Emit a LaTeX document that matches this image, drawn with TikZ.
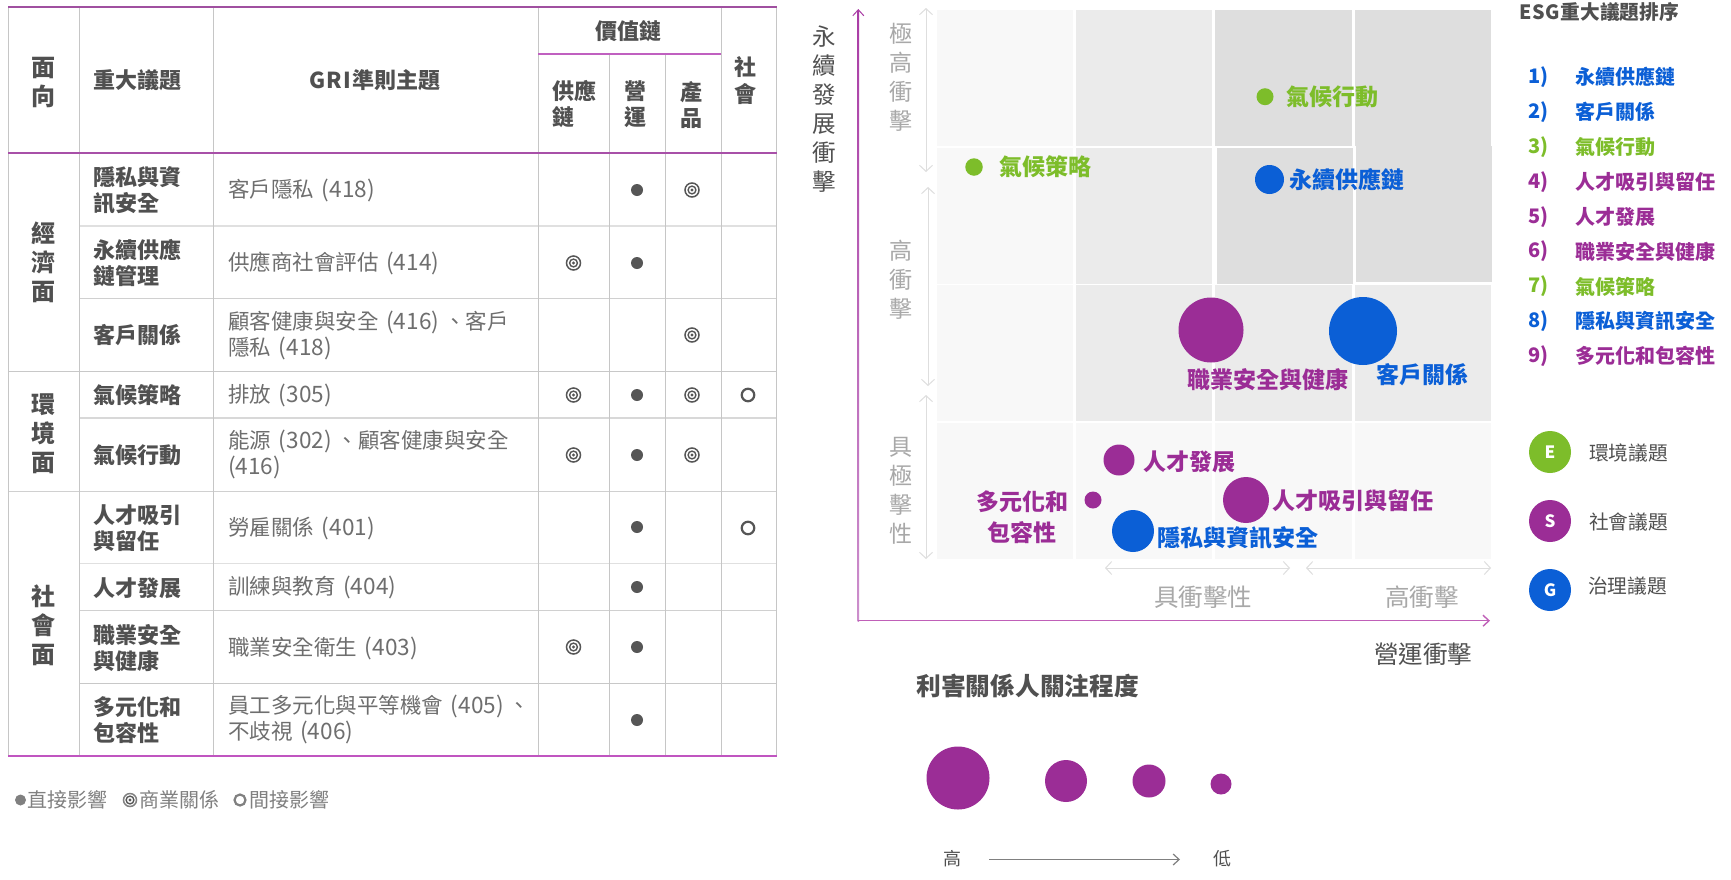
\documentclass[tikz,border=0pt]{standalone}
\usepackage{fontspec}
\setmainfont{Noto Sans CJK TC}
\usetikzlibrary{arrows.meta}
\definecolor{cgreen}{HTML}{7DBD2A}
\definecolor{cpurple}{HTML}{9B2D96}
\definecolor{cblue}{HTML}{0B5FD6}
\definecolor{cdark}{HTML}{505050}
\definecolor{cbody}{HTML}{6E6E6E}
\definecolor{cmark}{HTML}{565656}
\definecolor{cvline}{HTML}{C6C6C6}
\definecolor{cl1}{HTML}{F8F8F8}
\definecolor{cl2}{HTML}{EBEBEB}
\definecolor{cl3}{HTML}{DEDEDE}
\definecolor{cgrayt}{HTML}{A8A8A8}
\definecolor{c888}{HTML}{808080}
\definecolor{pA}{HTML}{A050A0}
\definecolor{pB}{HTML}{C060C0}
\definecolor{pC}{HTML}{A850A8}
\definecolor{pD}{HTML}{C055C0}
\definecolor{pE}{HTML}{A93CA5}
\definecolor{pF}{HTML}{CC8FCC}
\definecolor{pG}{HTML}{C060B8}
\newcommand{\fs}[2]{\fontsize{#1}{#2}\selectfont}
\newcommand{\dg}[1]{\kern3pt{\fontsize{22.6}{26}\selectfont #1}}
\tikzset{
  x=1pt,y=-1pt,
  txt/.style={inner sep=0pt,outer sep=0pt},
  hd/.style={txt,text=cdark,font=\fs{22}{26}\bfseries,align=left,anchor=west},
  hdc/.style={txt,text=cdark,font=\fs{24}{29}\bfseries,align=center},
  body/.style={txt,text=cbody,font=\fs{21.5}{26},align=left,anchor=west},
  vline/.style={draw=cvline,line width=1pt},
  hline/.style={draw=#1,line width=1.3pt},
  purp/.style={draw=#1,line width=1.5pt},
  dotm/.style={circle,fill=cmark,inner sep=0pt,minimum size=12pt},
  hollowm/.style={circle,draw=cmark,line width=2.2pt,fill=white,inner sep=0pt,minimum size=12.5pt},
  targetm/.style={circle,draw=cmark,line width=1.5pt,fill=white,inner sep=0pt,minimum size=14pt,
     path picture={\draw[cmark,line width=1.4pt] (path picture bounding box.center) circle (3.9pt);
                   \fill[cmark] (path picture bounding box.center) circle (1.7pt);}},
  cell/.style={fill=#1,draw=none},
  blab/.style={txt,font=\fs{23}{31}\bfseries,text=#1,anchor=west,align=center},
  bub/.style={circle,fill=#1,inner sep=0pt,outer sep=0pt},
  vgr/.style={txt,text=cgrayt,font=\fs{23}{29},align=center},
  garrow/.style={draw=cl3,line width=1pt,{Straight Barb[length=6pt,width=13pt]}-{Straight Barb[length=6pt,width=13pt]}},
  rlab/.style={txt,font=\fs{20}{24}\bfseries,text=#1,anchor=west},
  rleg/.style={txt,font=\fs{19.7}{24},text=cdark,anchor=west},
  leg/.style={txt,font=\fs{20}{24},text=c888,anchor=west}
}
\begin{document}
\begin{tikzpicture}
\useasboundingbox (0,0) rectangle (1731,879);
\fill[white] (0,0) rectangle (1731,879);
% table grid: horizontal rules
\foreach \yy/\xs/\cc in {226/80/E0E0E0,298.7/80/D0D0D0,371.3/8/C8C8C8,418/80/D8D8D8,491.3/8/D0D0D0,563.7/80/E0E0E0,610.7/80/D0D0D0,683.3/80/C8C8C8}{
  \definecolor{ctmp}{HTML}{\cc}
  \draw[hline=ctmp] (\xs,\yy) -- (776.5,\yy);
}
% vertical rules
\foreach \xx in {8,79.6,213,538,721,776.5} \draw[vline] (\xx,7) -- (\xx,757);
\foreach \xx in {609.5,665} \draw[vline] (\xx,54) -- (\xx,757);
% purple rules
\draw[purp=pA] (8,7) -- (776.5,7);
\draw[purp=pB] (538,54) -- (721,54);
\draw[purp=pC] (8,153) -- (776.5,153);
\draw[purp=pD] (8,756) -- (776.5,756);
% header
\node[hdc] (hMian) at (43,83) {面\\向};
\node[hd] (hTopic) at (93,80) {重大議題};
\node[txt,text=cdark,font=\fs{22}{26}\bfseries] (hGri) at (375,80) {G\kern1pt R\kern1pt I\kern1pt 準則主題};
\node[txt,text=cdark,font=\fs{22}{26}\bfseries] (hValue) at (628.5,31) {價值鏈};
\node[hd] (hSup) at (552,104.5) {供應\\鏈};
\node[hd] (hOp) at (624.5,104.5) {營\\運};
\node[hd] (hProd) at (680,104.5) {產\\品};
\node[txt,text=cdark,font=\fs{22}{27}\bfseries,align=center] (hSoc) at (745.5,81) {社\\會};
% groups
\node[hdc] (gEco) at (43,262) {經\\濟\\面};
\node[hdc] (gEnv) at (43,434) {環\\境\\面};
\node[hdc] (gSoc) at (43,625) {社\\會\\面};
% column 2
\node[hd] (t1) at (93,190) {隱私與資\\訊安全};
\node[hd] (t2) at (93,263) {永續供應\\鏈管理};
\node[hd] (t3) at (93,335) {客戶關係};
\node[hd] (t4) at (93,395) {氣候策略};
\node[hd] (t5) at (93,455) {氣候行動};
\node[hd] (t6) at (93,528) {人才吸引\\與留任};
\node[hd] (t7) at (93,588) {人才發展};
\node[hd] (t8) at (93,648) {職業安全\\與健康};
\node[hd] (t9) at (93,720) {多元化和\\包容性};
% column 3
\node[body] (g1) at (228,190) {客戶隱私 \dg{(418)}};
\node[body] (g2) at (228,263) {供應商社會評估 \dg{(414)}};
\node[body] (g3) at (228,335) {顧客健康與安全 \dg{(416)} 、客戶\\隱私 \dg{(418)}};
\node[body] (g4) at (228,395) {排放 \dg{(305)}};
\node[body] (g5) at (228,454) {能源 \dg{(302)} 、顧客健康與安全\\\dg{\kern-3pt(416)}};
\node[body] (g6) at (228,528) {勞雇關係 \dg{(401)}};
\node[body] (g7) at (228,587.5) {訓練與教育 \dg{(404)}};
\node[body] (g8) at (228,648) {職業安全衛生 \dg{(403)}};
\node[body] (g9) at (228,719) {員工多元化與平等機會 \dg{(405)} 、\\不歧視 \dg{(406)}};
% marks
\node[dotm] (m1b) at (637,190) {};
\node[targetm] (m1c) at (692,190) {};
\node[targetm] (m2a) at (573.5,263) {};
\node[dotm] (m2b) at (637,263) {};
\node[targetm] (m3c) at (692,335) {};
\node[targetm] (m4a) at (573.5,395) {};
\node[dotm] (m4b) at (637,395) {};
\node[targetm] (m4c) at (692,395) {};
\node[hollowm] (m4d) at (748,395) {};
\node[targetm] (m5a) at (573.5,455) {};
\node[dotm] (m5b) at (637,455) {};
\node[targetm] (m5c) at (692,455) {};
\node[dotm] (m6b) at (637,527) {};
\node[hollowm] (m6d) at (748,528) {};
\node[dotm] (m7b) at (637,587) {};
\node[targetm] (m8a) at (573.5,647) {};
\node[dotm] (m8b) at (637,647) {};
\node[dotm] (m9b) at (637,720) {};
% legend under table
\node[dotm,minimum size=11pt,fill=c888] (lgA) at (20.5,800) {};
\node[leg] (lgAt) at (27.5,800) {直接影響};
\node[targetm,minimum size=13pt,draw=c888] (lgB) at (130,800) {};
\node[leg] (lgBt) at (139,800) {商業關係};
\node[hollowm,minimum size=11pt,draw=c888] (lgC) at (240,800) {};
\node[leg] (lgCt) at (249,800) {間接影響};
% chart cells
\fill[cell=cl1] (937,10) rectangle (1073,146);
\fill[cell=cl2] (1076,10) rectangle (1212,146);
\fill[cell=cl3] (1215,10) rectangle (1352,146);
\fill[cell=cl3] (1355,10) rectangle (1491,146);
\fill[cell=cl1] (937,148) rectangle (1073,284);
\fill[cell=cl2] (1076,148) rectangle (1212,284);
\fill[cell=cl3] (1217,148) rectangle (1353,284);
\fill[cell=cl3] (1356,146) rectangle (1492,282);
\fill[cell=cl1] (937,285) rectangle (1073,421);
\fill[cell=cl2] (1076,285) rectangle (1212,421);
\fill[cell=cl2] (1215,285) rectangle (1352,421);
\fill[cell=cl2] (1355,285) rectangle (1491,421);
\fill[cell=cl1] (937,423) rectangle (1073,559);
\fill[cell=cl1] (1076,423) rectangle (1212,559);
\fill[cell=cl1] (1215,423) rectangle (1352,559);
\fill[cell=cl1] (1355,423) rectangle (1491,559);
% axes
\coordinate (axTop) at (858.3,9);
\coordinate (axO) at (858.3,620.7);
\coordinate (axEnd) at (1490,620.7);
\shade[top color=pE,bottom color=pF] (857.6,10) rectangle (859,621);
\draw[draw=pE,line width=1pt,{Straight Barb[length=6pt,width=11pt]}-] (axTop) -- ++(0,12);
\draw[draw=pG,line width=1.4pt,-{Straight Barb[length=6pt,width=11pt]}] (axO) -- (axEnd);
% impact arrows
\draw[garrow] (926,8) -- (926,172);
\draw[garrow] (928,187) -- (928,386);
\draw[garrow] (926,395) -- (926,559);
\draw[garrow] (1105,568) -- (1290,568);
\draw[garrow] (1306,568) -- (1491,568);
% axis titles
\node[txt,text=cdark,font=\fs{23.5}{29},align=center] (yTitle) at (824,109.5) {永\\續\\發\\展\\衝\\擊};
\node[vgr] (yA) at (900.7,77) {極\\高\\衝\\擊};
\node[vgr] (yB) at (900.7,280) {高\\衝\\擊};
\node[vgr] (yC) at (900.7,491) {具\\極\\擊\\性};
\node[txt,text=cgrayt,font=\fs{24.5}{29}] (xA) at (1203,597) {具衝擊性};
\node[txt,text=cgrayt,font=\fs{24.5}{29}] (xB) at (1422,597) {高衝擊};
\node[txt,text=cdark,font=\fs{24.5}{29}] (xTitle) at (1423,654) {營運衝擊};
% bubbles
\node[bub=cgreen,minimum size=17pt] (b3) at (1265,96.7) {};
\node[bub=cgreen,minimum size=17.5pt] (b7) at (974,167) {};
\node[bub=cblue,minimum size=29pt] (b1) at (1269.5,179.5) {};
\node[bub=cpurple,minimum size=65pt] (b6) at (1211,330) {};
\node[bub=cblue,minimum size=68pt] (b2) at (1363,331) {};
\node[bub=cpurple,minimum size=31pt] (b5) at (1119,460) {};
\node[bub=cpurple,minimum size=46pt] (b4) at (1246,500) {};
\node[bub=cpurple,minimum size=17pt] (b9) at (1093,500) {};
\node[bub=cblue,minimum size=42pt] (b8) at (1133,531) {};
% bubble labels
\node[blab=cgreen] (l3) at (1286.7,97) {氣候行動};
\node[blab=cgreen] (l7) at (999.5,167) {氣候策略};
\node[blab=cblue] (l1) at (1289.5,180) {永續供應鏈};
\node[blab=cpurple] (l6) at (1187,380) {職業安全與健康};
\node[blab=cblue] (l2) at (1376,375) {客戶關係};
\node[blab=cpurple] (l5) at (1143.6,462) {人才發展};
\node[blab=cpurple] (l4) at (1272,501) {人才吸引與留任};
\node[blab=cpurple,anchor=center] (l9) at (1022,517.5) {多元化和\\包容性};
\node[blab=cblue] (l8) at (1157.6,538) {隱私與資訊安全};
% attention scale
\node[txt,text=cdark,font=\fs{24.7}{29}\bfseries,anchor=west] (aT) at (916.5,686) {利害關係人關注程度};
\node[bub=cpurple,minimum size=63pt] (s1) at (958,778) {};
\node[bub=cpurple,minimum size=42pt] (s2) at (1066,781) {};
\node[bub=cpurple,minimum size=33pt] (s3) at (1149,781) {};
\node[bub=cpurple,minimum size=21pt] (s4) at (1221,784) {};
\node[txt,text=cdark,font=\fs{18}{22}] (aH) at (952,859) {高};
\node[txt,text=cdark,font=\fs{18}{22}] (aL) at (1222,859) {低};
\coordinate (aS) at (989,859.5);
\coordinate (aE) at (1180,859.5);
\draw[draw=c888,line width=1.2pt,-{Straight Barb[length=6pt,width=11pt]}] (aS) -- (aE);
% right panel
\node[txt,text=cdark,font=\fs{19.7}{24}\bfseries,anchor=west] (rT) at (1519,12) {E\kern.8pt S\kern.8pt G\kern.8pt 重大議題排序};
\foreach \nm/\yy/\cc/\tt in {1/77/cblue/永續供應鏈,2/112/cblue/客戶關係,3/147/cgreen/氣候行動,4/182/cpurple/人才吸引與留任,5/217/cpurple/人才發展,6/251.5/cpurple/職業安全與健康,7/286.5/cgreen/氣候策略,8/321/cblue/隱私與資訊安全,9/356/cpurple/多元化和包容性}{
  \node[rlab=\cc] (rn\nm) at (1528,\yy) {\nm)};
  \node[rlab=\cc] (rt\nm) at (1575,\yy) {\tt};
}
\node[bub=cgreen,minimum size=42pt,text=white,font=\fs{17}{20}\bfseries] (kE) at (1550,452) {E};
\node[bub=cpurple,minimum size=42pt,text=white,font=\fs{17}{20}\bfseries] (kS) at (1550,521) {S};
\node[bub=cblue,minimum size=42pt,text=white,font=\fs{17}{20}\bfseries] (kG) at (1550,590) {G};
\node[rleg] (kEt) at (1589,453) {環境議題};
\node[rleg] (kSt) at (1589,522) {社會議題};
\node[rleg] (kGt) at (1588,586) {治理議題};
\end{tikzpicture}
\end{document}
